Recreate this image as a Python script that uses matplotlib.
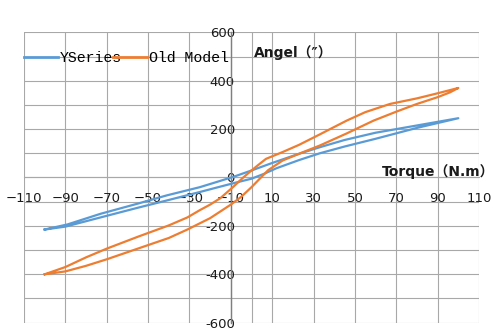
import matplotlib
matplotlib.use("Agg")
import matplotlib.pyplot as plt
from matplotlib.font_manager import FontProperties

# YSeries hysteresis loop: loading branch (-100 -> 100) then unloading branch (100 -> -100)
yseries_torque = [-100, -90, -73, -55, -41, -25, -17, -8, 0, 6, 12, 23, 33, 45, 60, 80, 100,
                  80, 60, 45, 33, 23, 10, 0, -8, -17, -25, -41, -55, -73, -89, -100]
yseries_angle = [-215, -203, -165, -125, -95, -60, -42, -22, -5, 15, 38, 72, 100, 128, 160, 205, 245,
                 215, 185, 155, 125, 98, 60, 29, 5, -19, -40, -74, -108, -150, -194, -215]

# Old Model hysteresis loop
old_torque = [-100, -90, -80, -70, -55, -40, -31, -20, -10, -5, 0, 4, 8, 15, 25, 33, 46, 59, 70, 80, 90, 96, 100,
              90, 80, 67, 55, 46, 38, 33, 23, 15, 7, 3, 0, -4, -9, -15, -20, -25, -31, -40, -55, -70, -80, -90, -100]
old_angle = [-400, -388, -365, -338, -294, -250, -215, -168, -112, -80, -40, -5, 30, 70, 105, 132, 182, 235, 272, 304, 332, 352, 370,
             348, 327, 304, 270, 235, 200, 178, 135, 105, 77, 50, 29, 0, -40, -85, -112, -135, -165, -198, -245, -294, -330, -370, -400]

x_ticks = [-110, -90, -70, -50, -30, -10, 10, 30, 50, 70, 90, 110]
x_tick_labels = ["\u2212110", "\u221290", "\u221270", "\u221250", "\u221230", "\u221210",
                 "10", "30", "50", "70", "90", "110"]
y_ticks = [-600, -400, -200, 0, 200, 400, 600]
y_tick_labels = ["-600", "-400", "-200", "0", "200", "400", "600"]
y_minor = [-500, -300, -100, 100, 300, 500]

series_names = ["YSeries", "Old Model"]
x_title = "Torque\uff08N.m\uff09"
y_title = "Angel\uff08\u2033\uff09"

BLUE = "#5B9BD5"
ORANGE = "#ED7D31"
GRID = "#A8A8A8"

fig = plt.figure(figsize=(5, 3.31), dpi=100)
ax = fig.add_axes([0.048, 0.0251, 0.91, 0.8773])

ax.plot(yseries_torque, yseries_angle, color=BLUE, lw=1.6, label=series_names[0],
        solid_joinstyle="round", zorder=3)
ax.plot(old_torque, old_angle, color=ORANGE, lw=1.6, label=series_names[1],
        solid_joinstyle="round", zorder=3)

ax.set_xlim(-110, 110)
ax.set_ylim(-600, 600)
ax.set_xticks(x_ticks, x_tick_labels)
ax.set_xticks([0], minor=True)
ax.set_yticks(y_ticks, y_tick_labels)
ax.set_yticks(y_minor, minor=True)

ax.grid(which="both", color=GRID, lw=0.8)
ax.set_axisbelow(True)
for t in ax.xaxis.get_major_ticks() + ax.xaxis.get_minor_ticks() + \
         ax.yaxis.get_major_ticks() + ax.yaxis.get_minor_ticks():
    t.gridline.set_clip_on(False)

ax.spines["top"].set_visible(False)
ax.spines["right"].set_visible(False)
ax.spines["left"].set_position(("data", -10))
ax.spines["left"].set_color("#7F7F7F")
ax.spines["left"].set_linewidth(1.0)
ax.spines["bottom"].set_position(("data", 0))
ax.spines["bottom"].set_color(GRID)
ax.spines["bottom"].set_linewidth(0.8)

ax.tick_params(which="both", length=0)
ax.tick_params(axis="x", pad=10.5, labelsize=9.5, labelcolor="#1a1a1a")
ax.tick_params(axis="y", pad=-3, labelsize=9.5, labelcolor="#1a1a1a")
ax.patch.set_alpha(0)

leg = ax.legend(loc="center left", bbox_to_anchor=(0, 0.9105), ncol=2, frameon=False,
                prop=FontProperties(family="Liberation Mono", size=10.7),
                handlelength=2.29, handletextpad=0.13, columnspacing=-0.6,
                borderpad=0, borderaxespad=0)
for line in leg.get_lines():
    line.set_linewidth(2.0)

title_font = dict(fontsize=10, fontweight="bold", family=["DejaVu Sans", "Noto Sans CJK SC"],
                  va="baseline", ha="left", color="#1a1a1a")
ax.text(1, 500, y_title, **title_font)
ax.text(63, 6, x_title, clip_on=False, **title_font)

fig.savefig("out.png", dpi=100)
